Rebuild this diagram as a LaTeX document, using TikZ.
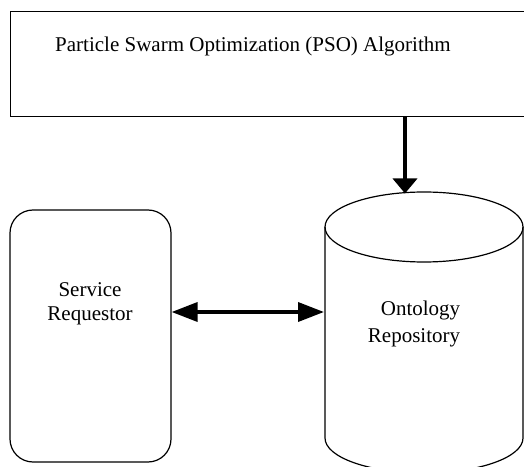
\documentclass[tikz,border=0pt]{standalone}
\usepackage{fontspec}
\setmainfont{Liberation Serif}
\usetikzlibrary{arrows.meta}
\begin{document}
\begin{tikzpicture}[x=1pt,y=1pt,
  box/.style={draw=black,line width=1.2pt,inner sep=0pt},
  lbl/.style={font=\fontsize{21}{25}\selectfont,inner sep=0pt,anchor=base},
  thick arrow/.style={line width=3.6pt},
  htip/.style={Triangle[length=26pt,width=19pt]},
  vtip/.style={Triangle[length=15pt,width=24pt]}]
\clip (0,0) rectangle (524,466);
% PSO box
\node[box,minimum width=529.5pt,minimum height=105pt] (pso) at (275.25,402) {};
\node[lbl,anchor=base west] (psotext) at (55,414.3) {Particle Swarm Optimization (PSO) Algorithm};
% Service requestor
\node[box,rounded corners=23pt,minimum width=161pt,minimum height=252pt] (sr) at (90.5,130) {};
\node[lbl] (srt1) at (90,169.3) {Service};
\node[lbl] (srt2) at (90,146) {Requestor};
% Ontology repository cylinder
\draw[line width=1.2pt] (325,239) -- (325,28) arc[start angle=180,end angle=360,x radius=99,y radius=35] -- (523,239);
\draw[line width=1.2pt] (424,239) ellipse[x radius=99,y radius=35];
\node[lbl] (rt1) at (420.5,150) {Ontology};
\node[lbl] (rt2) at (414,123.5) {Repository};
\coordinate (repoW) at (324,154);
\coordinate (repoTop) at (405,272.5);
\coordinate (psoOut) at (405,349.5);
% connectors
\draw[thick arrow,-{Triangle[length=15pt,width=24pt]}] (psoOut) -- (repoTop);
\draw[thick arrow,{Triangle[length=26pt,width=19pt]}-{Triangle[length=26pt,width=19pt]}] (sr.east |- repoW) -- (repoW);
\end{tikzpicture}
\end{document}
